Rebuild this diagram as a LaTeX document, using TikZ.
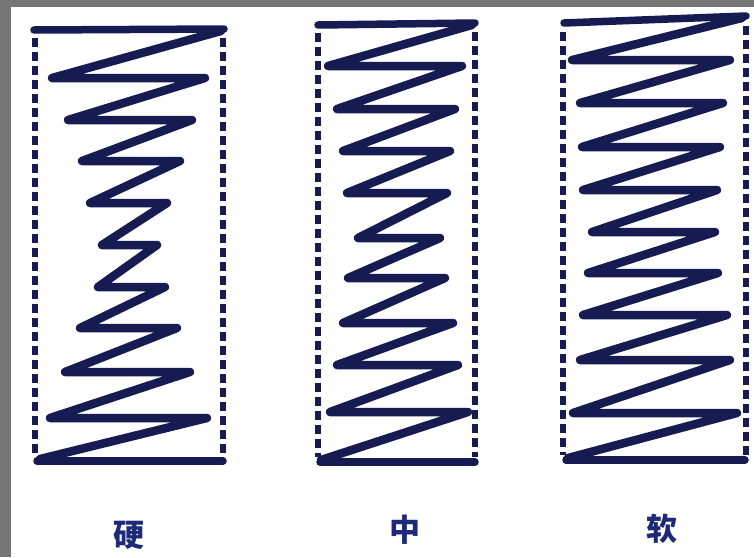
\documentclass[tikz,border=0pt]{standalone}
\usepackage{fontspec}
\newfontfamily\cjk{Noto Sans CJK SC}
\definecolor{ink}{RGB}{22,28,82}
\definecolor{labelink}{RGB}{30,42,120}
\definecolor{edge}{RGB}{118,118,118}
\begin{document}
\begin{tikzpicture}[x=1pt,y=-1pt,
  spring/.style={draw=ink,line width=8.5pt,line join=round,line cap=round},
  solidside/.style={draw=ink,line width=7.5pt,line cap=round},
  dashside/.style={draw=ink,line width=5.5pt,dash pattern=on 9pt off 5pt},
  lbl/.style={text=labelink,font=\cjk\bfseries\fontsize{31}{31}\selectfont,inner sep=0pt}]
\useasboundingbox (0,0) rectangle (754,557);
% paper and scan edge
\fill[edge] (0,0) rectangle (754,557);
\fill[white] (11,7) rectangle (754,557);
% ---- spring 1 (hard)
\draw[solidside] (34,30) -- (224,29);
\draw[solidside] (37,461) -- (223,461);
\draw[dashside] (35,38) -- (35,456);
\draw[dashside] (223,38) -- (223,456);
\draw[spring] (221,31) -- (52,78) -- (205,78) -- (68,120) -- (192,120)
  -- (82,161) -- (180,161) -- (90,203) -- (167,203) -- (102,245) -- (157,245)
  -- (98,287) -- (165,287) -- (80,328) -- (177,328) -- (65,372) -- (190,372)
  -- (50,418) -- (207,418) -- (40,459);
% ---- spring 2 (medium)
\draw[solidside] (318,25) -- (475,23);
\draw[solidside] (320,462) -- (475,462);
\draw[dashside] (318,33) -- (318,457);
\draw[dashside] (475,32) -- (475,457);
\draw[spring] (472,25) -- (328,66) -- (462,66) -- (337,109) -- (455,109)
  -- (343,151) -- (450,151) -- (347,193) -- (447,193) -- (358,238) -- (440,238)
  -- (348,278) -- (445,278) -- (343,323) -- (453,323) -- (337,365) -- (458,365)
  -- (330,412) -- (468,412) -- (321,460);
% ---- spring 3 (soft)
\draw[solidside] (564,23) -- (746,16);
\draw[solidside] (566,460) -- (745,460);
\draw[dashside] (563,32) -- (563,455);
\draw[dashside] (746,26) -- (746,455);
\draw[spring] (742,18) -- (572,60) -- (730,60) -- (580,103) -- (723,103)
  -- (582,147) -- (720,147) -- (583,190) -- (717,190) -- (592,232) -- (715,232)
  -- (588,273) -- (718,273) -- (583,315) -- (727,315) -- (580,360) -- (730,360)
  -- (573,413) -- (737,413) -- (568,458);
% ---- labels
\node[lbl] (hard) at (129,535) {硬};
\node[lbl] (medium) at (405,530) {中};
\node[lbl] (soft) at (662,529) {软};
\end{tikzpicture}
\end{document}
